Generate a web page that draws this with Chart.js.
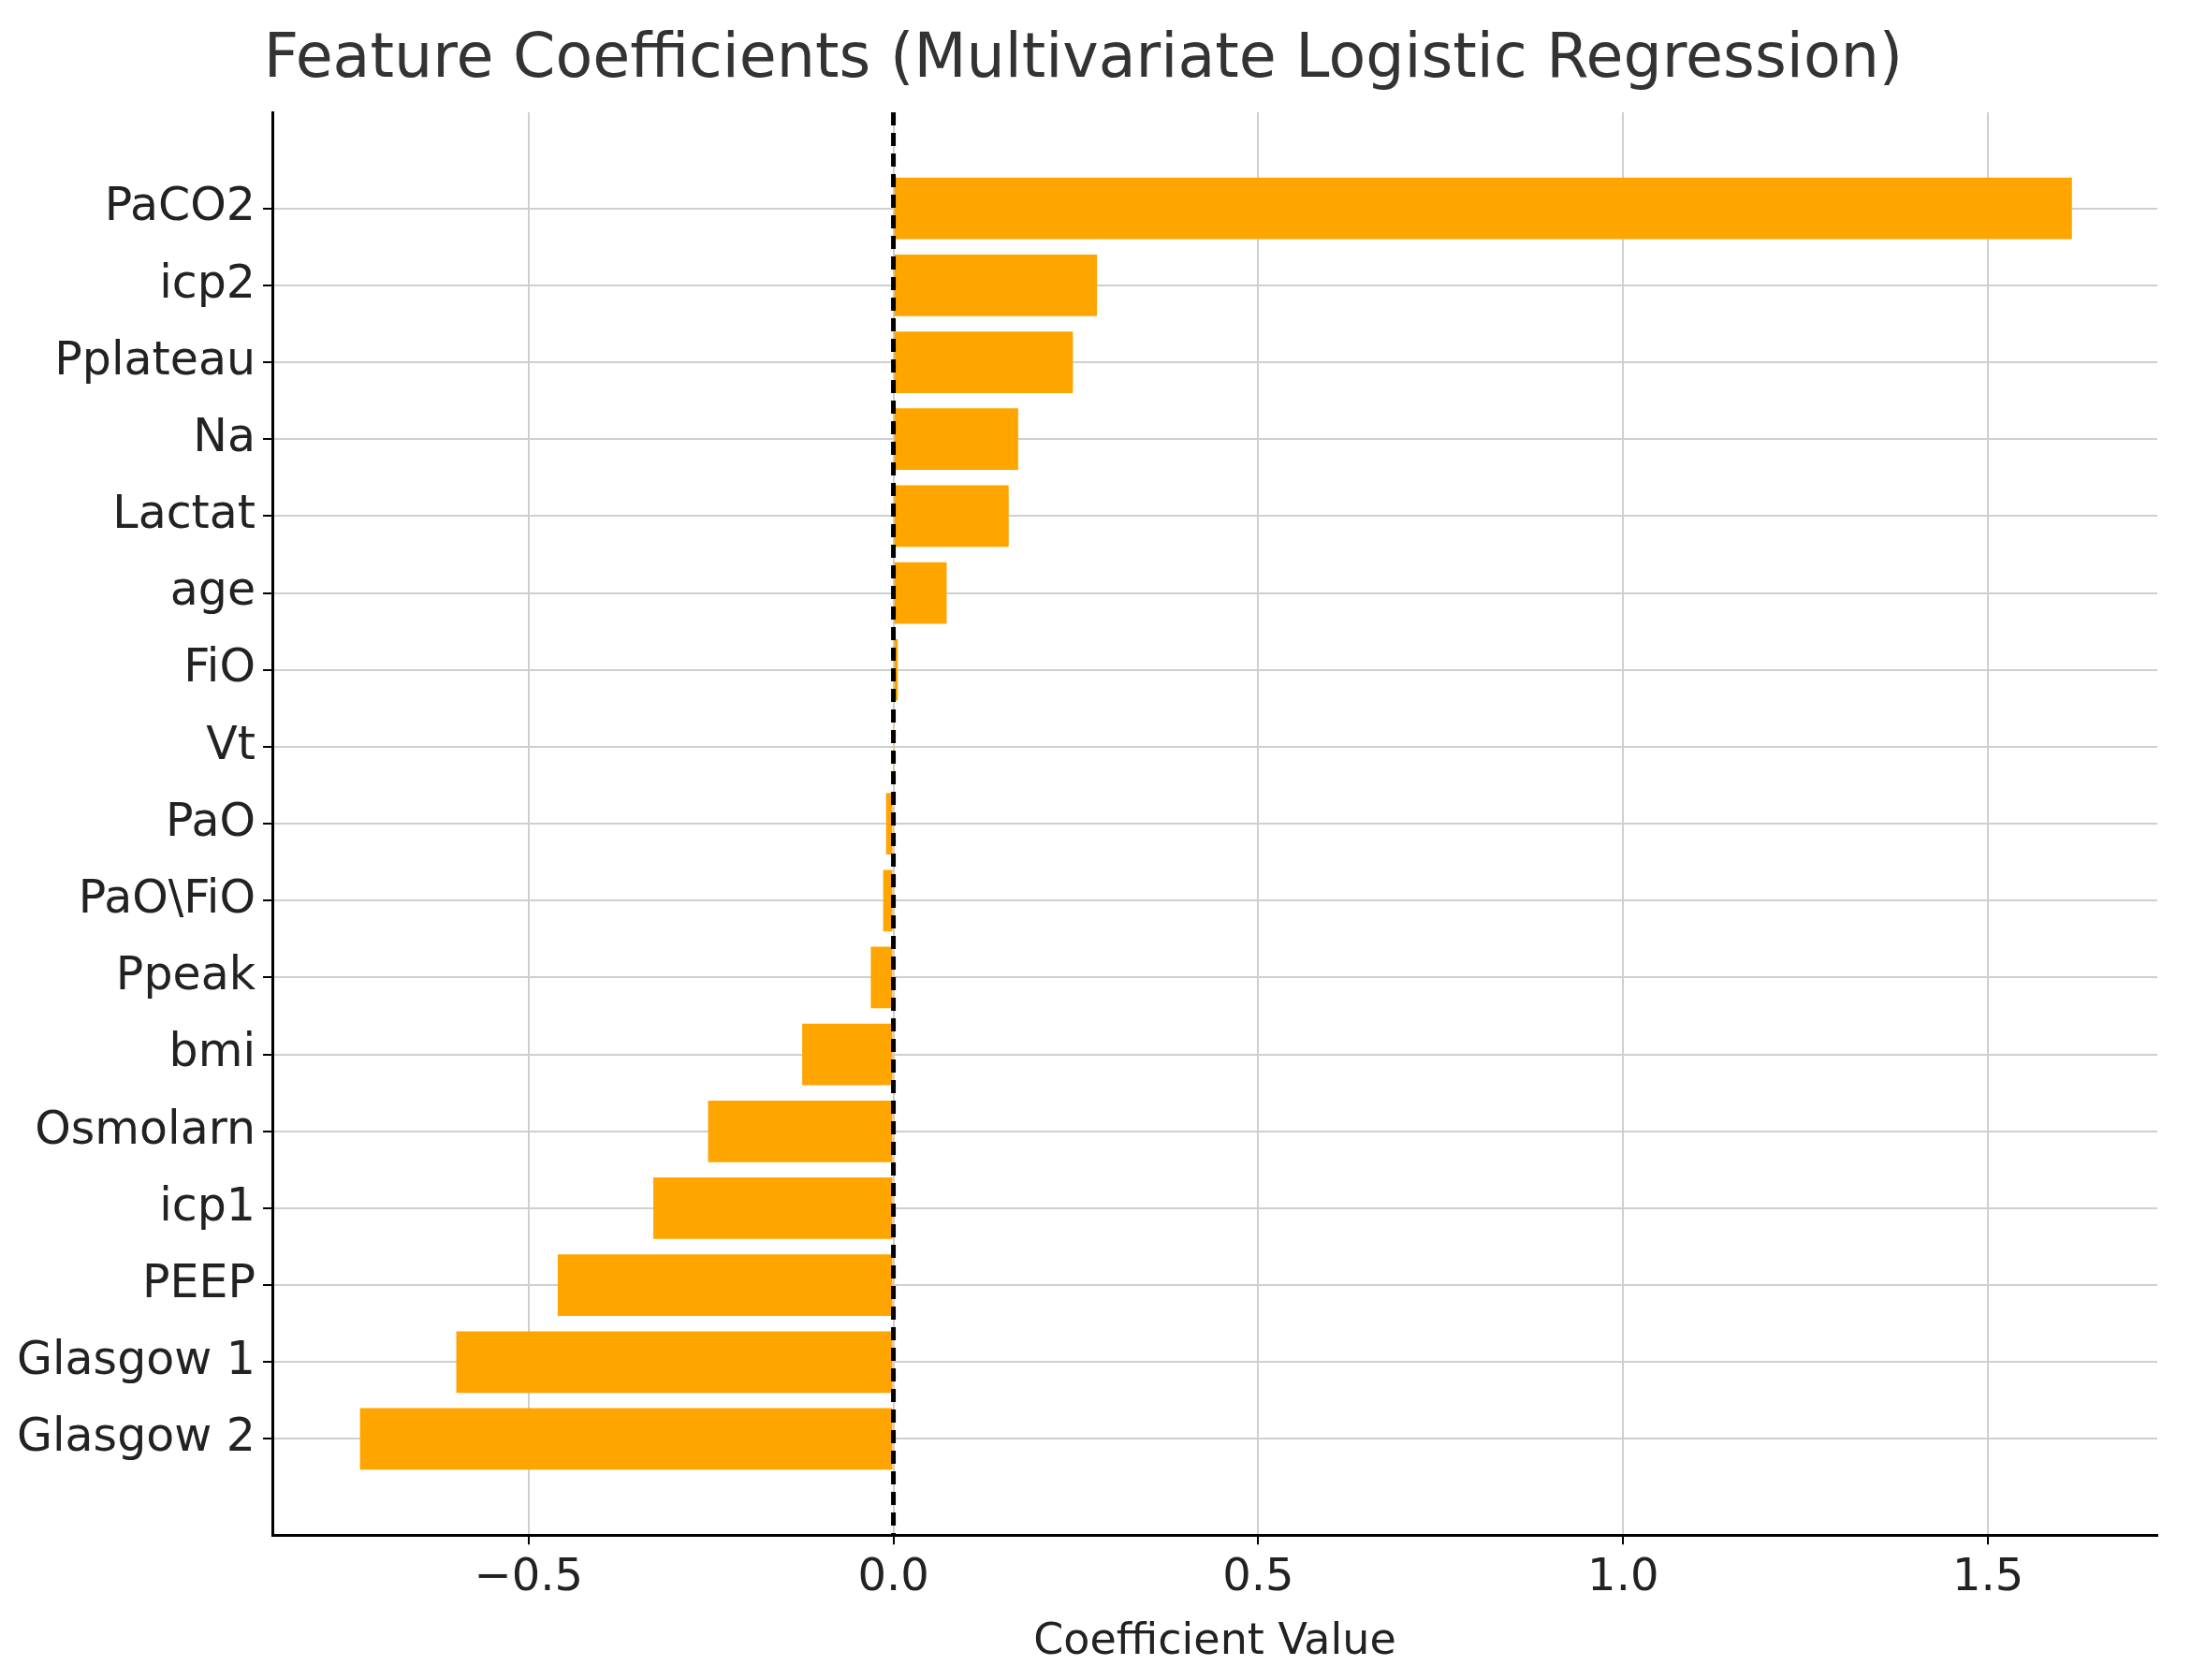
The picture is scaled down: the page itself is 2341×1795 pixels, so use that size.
<!DOCTYPE html>
<html>
<head>
<meta charset="UTF-8">
<title>Feature Coefficients</title>
<script src="https://cdn.jsdelivr.net/npm/chart.js"></script>
<style>
  html, body { margin: 0; padding: 0; background: #fff; }
  #wrap { width: 2341px; height: 1795px; }
</style>
</head>
<body>
<div id="wrap"><canvas id="myChart"></canvas></div>
<script>
const features = ['PaCO2', 'icp2', 'Pplateau', 'Na', 'Lactat', 'age', 'FiO', 'Vt', 'PaO',
  'PaO\\FiO', 'Ppeak', 'bmi', 'Osmolarn', 'icp1', 'PEEP', 'Glasgow 1', 'Glasgow 2'];
const coefficients = [1.615, 0.279, 0.246, 0.171, 0.158, 0.073, 0.006, 0.001, -0.010,
  -0.014, -0.031, -0.125, -0.254, -0.329, -0.460, -0.599, -0.731];
const xTicks = [-0.5, 0.0, 0.5, 1.0, 1.5];

const points = features.map((f, i) => ({ x: coefficients[i], y: i }));

const zeroLine = {
  id: 'zeroLine',
  afterDatasetsDraw(chart) {
    const x = chart.scales.x.getPixelForValue(0);
    const a = chart.chartArea;
    const ctx = chart.ctx;
    ctx.save();
    ctx.strokeStyle = '#000';
    ctx.lineWidth = 5;
    ctx.setLineDash([14, 8]);
    ctx.beginPath();
    ctx.moveTo(x, a.top);
    ctx.lineTo(x, a.bottom);
    ctx.stroke();
    ctx.restore();
  }
};

const font = 'DejaVu Sans';

const myChart = new Chart(document.getElementById('myChart'), {
  type: 'bar',
  data: {
    datasets: [{
      data: points,
      backgroundColor: '#ffa500',
      barPercentage: 0.8,
      categoryPercentage: 1.0
    }]
  },
  plugins: [zeroLine],
  options: {
    responsive: true,
    maintainAspectRatio: false,
    animation: false,
    indexAxis: 'y',
    layout: { padding: { top: 8, right: 36, bottom: 8, left: 10 } },
    plugins: {
      legend: { display: false },
      tooltip: { enabled: false },
      title: {
        display: true,
        text: 'Feature Coefficients (Multivariate Logistic Regression)',
        color: '#333',
        align: 'center',
        font: { family: font, size: 65, weight: 'normal' },
        padding: { top: 18, bottom: 16 }
      }
    },
    scales: {
      x: {
        type: 'linear',
        min: -0.851,
        max: 1.732,
        afterBuildTicks(scale) { scale.ticks = xTicks.map(v => ({ value: v })); },
        ticks: {
          color: '#222',
          font: { family: font, size: 48 },
          padding: 8,
          callback: v => (v < 0 ? '\u2212' : '') + Math.abs(v).toFixed(1)
        },
        grid: { color: '#cfcfcf', lineWidth: 2, tickColor: '#000', tickLength: 10, tickWidth: 2 },
        border: { color: '#000', width: 3 },
        title: {
          display: true,
          text: 'Coefficient Value',
          color: '#222',
          font: { family: font, size: 46 },
          padding: { top: 4 }
        }
      },
      y: {
        type: 'linear',
        reverse: true,
        offset: false,
        min: -1.25,
        max: 17.25,
        afterBuildTicks(scale) { scale.ticks = features.map((f, i) => ({ value: i })); },
        ticks: {
          color: '#222',
          font: { family: font, size: 49 },
          padding: 8,
          callback: v => features[v]
        },
        grid: { offset: false, color: '#cfcfcf', lineWidth: 2, tickColor: '#000', tickLength: 10, tickWidth: 2 },
        border: { color: '#000', width: 3 }
      }
    }
  }
});
</script>
</body>
</html>
